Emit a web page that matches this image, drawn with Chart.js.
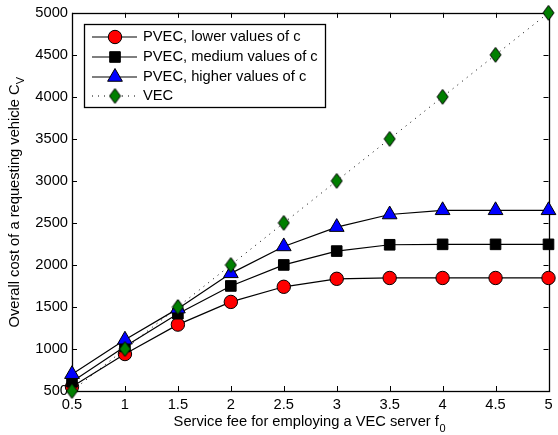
<!DOCTYPE html>
<html>
<head>
<meta charset="utf-8">
<script src="https://cdn.jsdelivr.net/npm/chart.js@4/dist/chart.umd.min.js"></script>
<style>
  html, body { margin: 0; padding: 0; background: #fff; }
  #wrap { width: 558px; height: 435px; }
</style>
</head>
<body>
<div id="wrap"><canvas id="chart" width="558" height="435"></canvas></div>
<script>
// data
const serviceFee = [0.5, 1, 1.5, 2, 2.5, 3, 3.5, 4, 4.5, 5];
const pvecLower = [550, 940, 1290, 1560, 1740, 1835, 1845, 1845, 1845, 1845];
const pvecMedium = [610, 1030, 1420, 1750, 2000, 2165, 2240, 2245, 2245, 2245];
const pvecHigher = [700, 1110, 1480, 1900, 2220, 2450, 2600, 2650, 2650, 2650];
const vec = [500, 1000, 1500, 2000, 2500, 3000, 3500, 4000, 4500, 5000];

const xTicks = [0.5, 1, 1.5, 2, 2.5, 3, 3.5, 4, 4.5, 5];
const yTicks = [500, 1000, 1500, 2000, 2500, 3000, 3500, 4000, 4500, 5000];

const seriesNames = ['PVEC, lower values of c', 'PVEC, medium values of c', 'PVEC, higher values of c', 'VEC'];

const FONT = '"Liberation Sans", Arial, Helvetica, sans-serif';
Chart.defaults.font.family = FONT;
Chart.defaults.font.size = 14.7;
Chart.defaults.color = '#000';

// matlab style diamond, taller than wide
function makeDiamond(w, h, fill) {
    const c = document.createElement('canvas');
    c.width = w + 2;
    c.height = h + 2;
    const g = c.getContext('2d');
    g.beginPath();
    g.moveTo(c.width / 2, 1);
    g.lineTo(c.width - 1, c.height / 2);
    g.lineTo(c.width / 2, c.height - 1);
    g.lineTo(1, c.height / 2);
    g.closePath();
    g.fillStyle = fill;
    g.fill();
    g.lineWidth = 1;
    g.strokeStyle = '#000';
    g.stroke();
    return c;
}
const diamond = makeDiamond(11, 15, '#007f00');

function toXY(ys) {
    return serviceFee.map((x, i) => ({ x: x, y: ys[i] }));
}

const datasets = [
    { label: seriesNames[0], data: toXY(pvecLower), borderColor: '#000', borderWidth: 1.2,
      pointStyle: 'circle', pointRadius: 6.7, pointBackgroundColor: '#ff0000', pointBorderColor: '#000', pointBorderWidth: 1, order: 3 },
    { label: seriesNames[1], data: toXY(pvecMedium), borderColor: '#000', borderWidth: 1.2,
      pointStyle: 'rect', pointRadius: 7.5, pointBackgroundColor: '#000', pointBorderColor: '#000', pointBorderWidth: 1, order: 2 },
    { label: seriesNames[2], data: toXY(pvecHigher), borderColor: '#000', borderWidth: 1.2,
      pointStyle: 'triangle', pointRadius: 8.5, pointBackgroundColor: '#0000ff', pointBorderColor: '#000', pointBorderWidth: 1, order: 1 },
    { label: seriesNames[3], data: toXY(vec), borderColor: '#000', borderWidth: 1, borderDash: [1, 5],
      pointStyle: diamond, pointRadius: 7.5, pointBackgroundColor: '#007f00', pointBorderColor: '#000', pointBorderWidth: 1, order: 0 }
];
datasets.forEach(d => { d.clip = false; d.tension = 0; d.fill = false; d.pointHoverRadius = d.pointRadius; });

// box, inward ticks, axis titles and the legend
const matlabFrame = {
    id: 'matlabFrame',
    beforeDatasetsDraw(chart) {
        const { ctx, chartArea: a, scales } = chart;
        ctx.save();
        ctx.strokeStyle = '#000';
        ctx.lineWidth = 1;
        ctx.beginPath();
        xTicks.forEach(v => {
            const px = Math.round(scales.x.getPixelForValue(v)) + 0.5;
            ctx.moveTo(px, a.bottom); ctx.lineTo(px, a.bottom - 5);
            ctx.moveTo(px, a.top); ctx.lineTo(px, a.top + 5);
        });
        yTicks.forEach(v => {
            const py = Math.round(scales.y.getPixelForValue(v)) + 0.5;
            ctx.moveTo(a.left, py); ctx.lineTo(a.left + 5, py);
            ctx.moveTo(a.right, py); ctx.lineTo(a.right - 5, py);
        });
        ctx.stroke();
        ctx.lineWidth = 1.3;
        ctx.strokeRect(Math.round(a.left) + 0.5, Math.round(a.top) + 0.5, Math.round(a.right - a.left), Math.round(a.bottom - a.top));

        // axis titles with subscripts
        ctx.fillStyle = '#000';
        ctx.textBaseline = 'middle';
        ctx.font = '14.7px ' + FONT;
        const xt = 'Service fee for employing a VEC server f';
        const xw = ctx.measureText(xt).width;
        const xc = (a.left + a.right) / 2 - 4;
        ctx.textAlign = 'left';
        ctx.fillText(xt, xc - xw / 2, 422);
        ctx.font = '11px ' + FONT;
        ctx.fillText('0', xc + xw / 2 + 0.5, 429);

        ctx.translate(15, (a.top + a.bottom) / 2 + 4);
        ctx.rotate(-Math.PI / 2);
        ctx.font = '14.7px ' + FONT;
        const yt = 'Overall cost of a requesting vehicle C';
        const yw = ctx.measureText(yt).width;
        ctx.fillText(yt, -yw / 2, 0);
        ctx.font = '11px ' + FONT;
        ctx.fillText('V', yw / 2, 6);
        ctx.restore();
    },
    afterDraw(chart) {
        const { ctx } = chart;
        const box = { left: 84, top: 24, right: 325, bottom: 107 };
        const rows = [37, 57, 77, 96];
        ctx.save();
        ctx.fillStyle = '#fff';
        ctx.fillRect(box.left, box.top, box.right - box.left, box.bottom - box.top);
        ctx.strokeStyle = '#000';
        ctx.lineWidth = 1.3;
        ctx.strokeRect(box.left + 0.5, box.top + 0.5, box.right - box.left, box.bottom - box.top);
        chart.data.datasets.forEach((ds, i) => {
            const y = rows[i];
            ctx.strokeStyle = ds.borderColor;
            ctx.lineWidth = ds.borderWidth;
            ctx.setLineDash(ds.borderDash || []);
            ctx.beginPath();
            ctx.moveTo(92, y); ctx.lineTo(137, y);
            ctx.stroke();
            ctx.setLineDash([]);
            ctx.fillStyle = ds.pointBackgroundColor;
            ctx.strokeStyle = ds.pointBorderColor;
            ctx.lineWidth = ds.pointBorderWidth;
            Chart.helpers.drawPoint(ctx, { pointStyle: ds.pointStyle, radius: ds.pointRadius, rotation: 0, borderWidth: 1 }, 115, y);
            ctx.fillStyle = '#000';
            ctx.font = '14.7px ' + FONT;
            ctx.textAlign = 'left';
            ctx.textBaseline = 'middle';
            ctx.fillText(ds.label, 143, y);
        });
        ctx.restore();
    }
};

new Chart(document.getElementById('chart'), {
    type: 'line',
    data: { datasets: datasets },
    options: {
        responsive: false,
        animation: false,
        layout: { padding: { top: 12, right: 7, left: 0, bottom: 0 } },
        plugins: { legend: { display: false }, tooltip: { enabled: false } },
        scales: {
            x: {
                type: 'linear',
                min: 0.5,
                max: 5,
                afterBuildTicks: s => { s.ticks = xTicks.map(v => ({ value: v })); },
                afterFit: s => { s.height = 44; },
                grid: { display: false, drawTicks: false },
                border: { display: false },
                ticks: { padding: 5, maxRotation: 0, autoSkip: false, callback: v => String(v) }
            },
            y: {
                type: 'linear',
                min: 500,
                max: 5000,
                afterBuildTicks: s => { s.ticks = yTicks.map(v => ({ value: v })); },
                afterFit: s => { s.width = 72; },
                grid: { display: false, drawTicks: false },
                border: { display: false },
                ticks: { padding: 4, autoSkip: false, callback: v => String(v) }
            }
        }
    },
    plugins: [matlabFrame]
});
</script>
</body>
</html>
